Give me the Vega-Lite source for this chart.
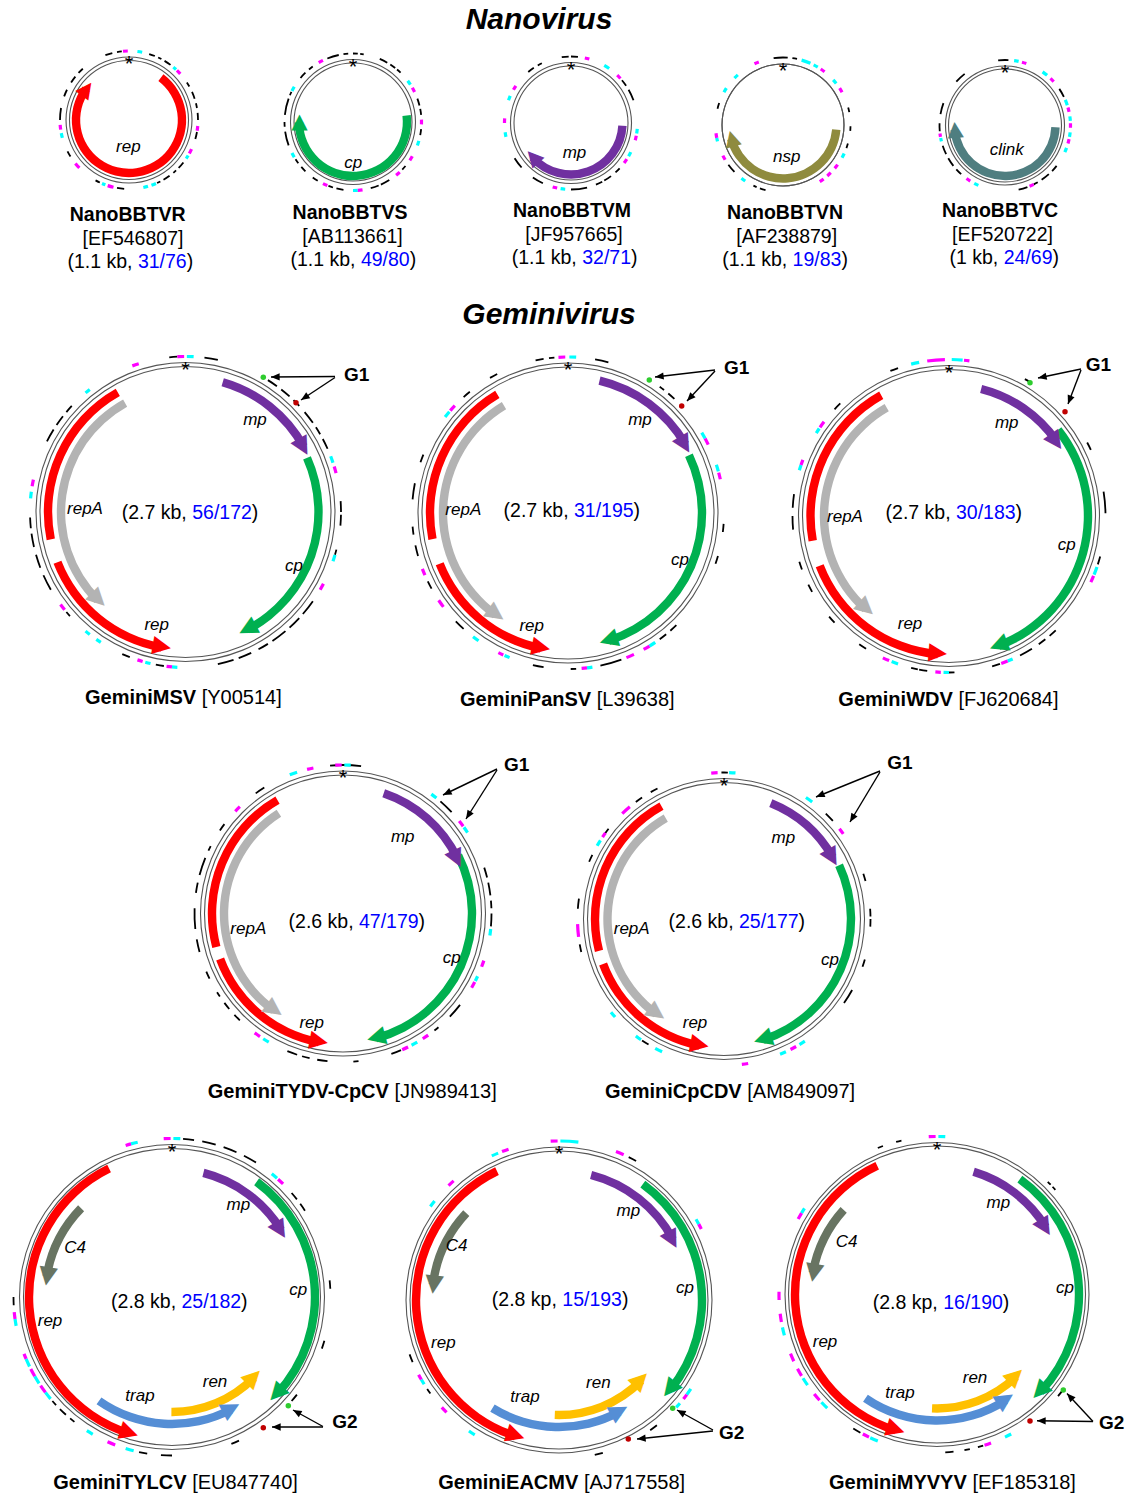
{
"$schema":"https://vega.github.io/schema/vega-lite/v6.json",
"width":1130,"height":1495,
"autosize":{"type":"fit","contains":"padding"},
"padding":0,
"background":"white",
"config":{"view":{"stroke":null}},
"datasets":{
"genomes":[
{"g":"R","fam":"nano","cx":129,"cy":120,"r1":59.5,"r2":63,"rd":69},
{"g":"S","fam":"nano","cx":353,"cy":122,"r1":59,"r2":62.5,"rd":68.5},
{"g":"M","fam":"nano","cx":571,"cy":123,"r1":57,"r2":60.5,"rd":66.5},
{"g":"N","fam":"nano","cx":783,"cy":125,"r1":61,"r2":61,"rd":67.5},
{"g":"C","fam":"nano","cx":1005,"cy":125.5,"r1":56.5,"r2":59.5,"rd":65.5},
{"g":"MSV","fam":"gem","cx":185.5,"cy":512,"r1":145.5,"r2":149.5,"rd":155.5},
{"g":"PanSV","fam":"gem","cx":568,"cy":513,"r1":146,"r2":150,"rd":156},
{"g":"WDV","fam":"gem","cx":949,"cy":516,"r1":146.5,"r2":150.5,"rd":156.5},
{"g":"TYDV","fam":"gem","cx":343,"cy":913.5,"r1":138.5,"r2":142.5,"rd":148.5},
{"g":"CpCDV","fam":"gem","cx":724,"cy":919,"r1":136.5,"r2":140.5,"rd":146.5},
{"g":"TYLCV","fam":"gem","cx":172,"cy":1297,"r1":148.5,"r2":152.5,"rd":158.5},
{"g":"EACMV","fam":"gem","cx":559,"cy":1300,"r1":149,"r2":153,"rd":159},
{"g":"MYVYV","fam":"gem","cx":937,"cy":1294.5,"r1":148.5,"r2":152,"rd":158}
],
"genes":[
{"g":"R","gene":"rep","a1":37,"a2":306,"r":53,"dir":"cw"},
{"g":"S","gene":"cp","a1":83,"a2":269.5,"r":54,"dir":"cw"},
{"g":"M","gene":"mp","a1":93,"a2":228,"r":51.5,"dir":"cw"},
{"g":"N","gene":"nsp","a1":95,"a2":255,"r":53.5,"dir":"cw"},
{"g":"C","gene":"clink","a1":92,"a2":265,"r":50.5,"dir":"cw"},
{"g":"MSV","gene":"mp","a1":16,"a2":61,"r":135,"dir":"cw"},
{"g":"MSV","gene":"cp","a1":66,"a2":152,"r":133,"dir":"cw"},
{"g":"MSV","gene":"rep","a1":330.5,"a2":258.5,"r":137.5,"dir":"-"},
{"g":"MSV","gene":"repA","a1":331,"a2":225,"r":124.5,"dir":"ccw"},
{"g":"MSV","gene":"rep","a1":248.6,"a2":190,"r":137.5,"dir":"ccw"},
{"g":"PanSV","gene":"mp","a1":13.4,"a2":59.6,"r":136,"dir":"cw"},
{"g":"PanSV","gene":"cp","a1":64.5,"a2":162.3,"r":134,"dir":"cw"},
{"g":"PanSV","gene":"rep","a1":329.2,"a2":259.1,"r":138,"dir":"-"},
{"g":"PanSV","gene":"repA","a1":329.2,"a2":215.5,"r":125,"dir":"ccw"},
{"g":"PanSV","gene":"rep","a1":248.4,"a2":191.4,"r":138,"dir":"ccw"},
{"g":"WDV","gene":"mp","a1":14.2,"a2":55.1,"r":131,"dir":"cw"},
{"g":"WDV","gene":"cp","a1":51.7,"a2":159,"r":139,"dir":"cw"},
{"g":"WDV","gene":"rep","a1":330.7,"a2":259.7,"r":138.5,"dir":"-"},
{"g":"WDV","gene":"repA","a1":330.1,"a2":222,"r":125,"dir":"ccw"},
{"g":"WDV","gene":"rep","a1":249,"a2":184.7,"r":138.5,"dir":"ccw"},
{"g":"TYDV","gene":"mp","a1":18.7,"a2":64.3,"r":127,"dir":"cw"},
{"g":"TYDV","gene":"cp","a1":63.2,"a2":165,"r":129,"dir":"cw"},
{"g":"TYDV","gene":"rep","a1":330,"a2":255.2,"r":131,"dir":"-"},
{"g":"TYDV","gene":"repA","a1":327.4,"a2":215.6,"r":119,"dir":"ccw"},
{"g":"TYDV","gene":"rep","a1":249.7,"a2":190.7,"r":131,"dir":"ccw"},
{"g":"CpCDV","gene":"mp","a1":22,"a2":60.3,"r":125,"dir":"cw"},
{"g":"CpCDV","gene":"cp","a1":65,"a2":162,"r":127,"dir":"cw"},
{"g":"CpCDV","gene":"rep","a1":331,"a2":255.7,"r":129,"dir":"-"},
{"g":"CpCDV","gene":"repA","a1":330,"a2":215.6,"r":116.5,"dir":"ccw"},
{"g":"CpCDV","gene":"rep","a1":249.6,"a2":191,"r":129,"dir":"ccw"},
{"g":"TYLCV","gene":"mp","a1":14.2,"a2":58.3,"r":128,"dir":"cw"},
{"g":"TYLCV","gene":"cp","a1":36.3,"a2":132.7,"r":143,"dir":"cw"},
{"g":"TYLCV","gene":"rep","a1":333.9,"a2":197.6,"r":143,"dir":"ccw"},
{"g":"TYLCV","gene":"C4","a1":314.3,"a2":279.4,"r":127,"dir":"ccw"},
{"g":"TYLCV","gene":"trap","a1":215.1,"a2":152.2,"r":127,"dir":"ccw"},
{"g":"TYLCV","gene":"ren","a1":180.3,"a2":134.6,"r":115,"dir":"ccw"},
{"g":"EACMV","gene":"mp","a1":14.4,"a2":61.9,"r":129,"dir":"cw"},
{"g":"EACMV","gene":"cp","a1":35.9,"a2":128.8,"r":143,"dir":"cw"},
{"g":"EACMV","gene":"rep","a1":334.3,"a2":197.8,"r":143,"dir":"ccw"},
{"g":"EACMV","gene":"C4","a1":313.1,"a2":277,"r":127,"dir":"ccw"},
{"g":"EACMV","gene":"trap","a1":211.6,"a2":151.6,"r":127,"dir":"ccw"},
{"g":"EACMV","gene":"ren","a1":182.1,"a2":134.4,"r":115,"dir":"ccw"},
{"g":"MYVYV","gene":"mp","a1":16.6,"a2":58.1,"r":128,"dir":"cw"},
{"g":"MYVYV","gene":"cp","a1":35.7,"a2":133.3,"r":142,"dir":"cw"},
{"g":"MYVYV","gene":"rep","a1":335.1,"a2":197,"r":142,"dir":"ccw"},
{"g":"MYVYV","gene":"C4","a1":312.2,"a2":280,"r":126,"dir":"ccw"},
{"g":"MYVYV","gene":"trap","a1":214.6,"a2":147,"r":126,"dir":"ccw"},
{"g":"MYVYV","gene":"ren","a1":182.5,"a2":136.2,"r":114,"dir":"ccw"}
],
"dashes":[
{"g":"R","a1":340,"a2":346,"c":"k"},{"g":"R","a1":350,"a2":354,"c":"k"},{"g":"R","a1":17,"a2":22,"c":"k"},{"g":"R","a1":25,"a2":28,"c":"k"},{"g":"R","a1":31,"a2":37,"c":"k"},{"g":"R","a1":57,"a2":61,"c":"k"},{"g":"R","a1":66,"a2":72,"c":"k"},{"g":"R","a1":76,"a2":80,"c":"k"},{"g":"R","a1":84,"a2":90,"c":"k"},{"g":"R","a1":100,"a2":106,"c":"k"},{"g":"R","a1":128,"a2":134,"c":"k"},{"g":"R","a1":137,"a2":140,"c":"k"},{"g":"R","a1":144,"a2":150,"c":"k"},{"g":"R","a1":153,"a2":156,"c":"k"},{"g":"R","a1":184,"a2":190,"c":"k"},{"g":"R","a1":205,"a2":209,"c":"k"},{"g":"R","a1":238,"a2":243,"c":"k"},{"g":"R","a1":270,"a2":280,"c":"k"},{"g":"R","a1":290,"a2":296,"c":"k"},{"g":"R","a1":303,"a2":309,"c":"k"},{"g":"R","a1":313,"a2":318,"c":"k"},
{"g":"R","a1":7,"a2":11,"c":"c"},{"g":"R","a1":40,"a2":43,"c":"c"},{"g":"R","a1":121,"a2":124,"c":"c"},{"g":"R","a1":157,"a2":161,"c":"c"},{"g":"R","a1":164,"a2":168,"c":"c"},{"g":"R","a1":200,"a2":203,"c":"c"},{"g":"R","a1":255,"a2":259,"c":"c"},
{"g":"R","a1":355,"a2":359,"c":"m"},{"g":"R","a1":44,"a2":48,"c":"m"},{"g":"R","a1":95,"a2":99,"c":"m"},{"g":"R","a1":115,"a2":119,"c":"m"},{"g":"R","a1":193,"a2":198,"c":"m"},{"g":"R","a1":226,"a2":231,"c":"m"},{"g":"R","a1":262,"a2":266,"c":"m"},
{"g":"S","a1":338,"a2":348,"c":"k"},{"g":"S","a1":352,"a2":356,"c":"k"},{"g":"S","a1":0,"a2":4,"c":"k"},{"g":"S","a1":6,"a2":9,"c":"k"},{"g":"S","a1":23,"a2":30,"c":"k"},{"g":"S","a1":33,"a2":38,"c":"k"},{"g":"S","a1":40,"a2":44,"c":"k"},{"g":"S","a1":70,"a2":76,"c":"k"},{"g":"S","a1":79,"a2":84,"c":"k"},{"g":"S","a1":96,"a2":101,"c":"k"},{"g":"S","a1":130,"a2":134,"c":"k"},{"g":"S","a1":148,"a2":156,"c":"k"},{"g":"S","a1":158,"a2":165,"c":"k"},{"g":"S","a1":188,"a2":194,"c":"k"},{"g":"S","a1":197,"a2":201,"c":"k"},{"g":"S","a1":211,"a2":216,"c":"k"},{"g":"S","a1":224,"a2":229,"c":"k"},{"g":"S","a1":233,"a2":237,"c":"k"},{"g":"S","a1":250,"a2":262,"c":"k"},{"g":"S","a1":266,"a2":270,"c":"k"},{"g":"S","a1":276,"a2":290,"c":"k"},{"g":"S","a1":293,"a2":296,"c":"k"},{"g":"S","a1":310,"a2":316,"c":"k"},{"g":"S","a1":320,"a2":324,"c":"k"},
{"g":"S","a1":53,"a2":57,"c":"c"},{"g":"S","a1":106,"a2":110,"c":"c"},{"g":"S","a1":176,"a2":180,"c":"c"},{"g":"S","a1":239,"a2":243,"c":"c"},{"g":"S","a1":297,"a2":301,"c":"c"},
{"g":"S","a1":330,"a2":334,"c":"m"},{"g":"S","a1":60,"a2":64,"c":"m"},{"g":"S","a1":88,"a2":92,"c":"m"},{"g":"S","a1":120,"a2":124,"c":"m"},{"g":"S","a1":137,"a2":141,"c":"m"},{"g":"S","a1":172,"a2":176,"c":"m"},{"g":"S","a1":202,"a2":206,"c":"m"},
{"g":"M","a1":352,"a2":358,"c":"k"},{"g":"M","a1":0,"a2":6,"c":"k"},{"g":"M","a1":50,"a2":56,"c":"k"},{"g":"M","a1":60,"a2":70,"c":"k"},{"g":"M","a1":133,"a2":138,"c":"k"},{"g":"M","a1":143,"a2":150,"c":"k"},{"g":"M","a1":152,"a2":158,"c":"k"},{"g":"M","a1":166,"a2":180,"c":"k"},{"g":"M","a1":205,"a2":215,"c":"k"},{"g":"M","a1":228,"a2":238,"c":"k"},{"g":"M","a1":320,"a2":326,"c":"k"},{"g":"M","a1":330,"a2":334,"c":"k"},
{"g":"M","a1":30,"a2":35,"c":"c"},{"g":"M","a1":95,"a2":99,"c":"c"},{"g":"M","a1":116,"a2":120,"c":"c"},{"g":"M","a1":185,"a2":189,"c":"c"},{"g":"M","a1":258,"a2":262,"c":"c"},{"g":"M","a1":290,"a2":294,"c":"c"},
{"g":"M","a1":12,"a2":16,"c":"m"},{"g":"M","a1":44,"a2":48,"c":"m"},{"g":"M","a1":101,"a2":105,"c":"m"},{"g":"M","a1":123,"a2":127,"c":"m"},{"g":"M","a1":192,"a2":196,"c":"m"},{"g":"M","a1":270,"a2":274,"c":"m"},{"g":"M","a1":300,"a2":304,"c":"m"},
{"g":"N","a1":352,"a2":364,"c":"k"},{"g":"N","a1":8,"a2":12,"c":"k"},{"g":"N","a1":75,"a2":79,"c":"k"},{"g":"N","a1":91,"a2":95,"c":"k"},{"g":"N","a1":106,"a2":110,"c":"k"},{"g":"N","a1":195,"a2":200,"c":"k"},{"g":"N","a1":203,"a2":206,"c":"k"},{"g":"N","a1":226,"a2":234,"c":"k"},{"g":"N","a1":284,"a2":289,"c":"k"},
{"g":"N","a1":16,"a2":24,"c":"c"},{"g":"N","a1":27,"a2":31,"c":"c"},{"g":"N","a1":48,"a2":52,"c":"c"},{"g":"N","a1":115,"a2":119,"c":"c"},{"g":"N","a1":214,"a2":218,"c":"c"},{"g":"N","a1":256,"a2":259,"c":"c"},{"g":"N","a1":299,"a2":303,"c":"c"},{"g":"N","a1":314,"a2":318,"c":"c"},
{"g":"N","a1":335,"a2":339,"c":"m"},{"g":"N","a1":34,"a2":38,"c":"m"},{"g":"N","a1":57,"a2":61,"c":"m"},{"g":"N","a1":126,"a2":130,"c":"m"},{"g":"N","a1":135,"a2":139,"c":"m"},{"g":"N","a1":143,"a2":147,"c":"m"},{"g":"N","a1":239,"a2":243,"c":"m"},{"g":"N","a1":259,"a2":263,"c":"m"},
{"g":"C","a1":354,"a2":363,"c":"k"},{"g":"C","a1":312,"a2":322,"c":"k"},{"g":"C","a1":56,"a2":64,"c":"k"},{"g":"C","a1":128,"a2":134,"c":"k"},{"g":"C","a1":138,"a2":146,"c":"k"},{"g":"C","a1":150,"a2":154,"c":"k"},{"g":"C","a1":160,"a2":168,"c":"k"},{"g":"C","a1":222,"a2":228,"c":"k"},{"g":"C","a1":232,"a2":240,"c":"k"},{"g":"C","a1":244,"a2":252,"c":"k"},{"g":"C","a1":265,"a2":272,"c":"k"},{"g":"C","a1":280,"a2":290,"c":"k"},
{"g":"C","a1":8,"a2":12,"c":"c"},{"g":"C","a1":35,"a2":40,"c":"c"},{"g":"C","a1":67,"a2":72,"c":"c"},{"g":"C","a1":82,"a2":86,"c":"c"},{"g":"C","a1":96,"a2":100,"c":"c"},{"g":"C","a1":110,"a2":114,"c":"c"},{"g":"C","a1":204,"a2":208,"c":"c"},{"g":"C","a1":256,"a2":259,"c":"c"},
{"g":"C","a1":15,"a2":19,"c":"m"},{"g":"C","a1":44,"a2":48,"c":"m"},{"g":"C","a1":74,"a2":78,"c":"m"},{"g":"C","a1":88,"a2":92,"c":"m"},{"g":"C","a1":102,"a2":106,"c":"m"},{"g":"C","a1":154,"a2":158,"c":"m"},{"g":"C","a1":212,"a2":216,"c":"m"},{"g":"C","a1":260,"a2":263,"c":"m"},
{"g":"MSV","a1":354,"a2":357,"c":"k"},{"g":"MSV","a1":7,"a2":12,"c":"k"},{"g":"MSV","a1":32,"a2":36,"c":"k"},{"g":"MSV","a1":38,"a2":42,"c":"k"},{"g":"MSV","a1":44,"a2":47,"c":"k"},{"g":"MSV","a1":50,"a2":55,"c":"k"},{"g":"MSV","a1":57,"a2":60,"c":"k"},{"g":"MSV","a1":62,"a2":66,"c":"k"},{"g":"MSV","a1":86,"a2":90,"c":"k"},{"g":"MSV","a1":91,"a2":95,"c":"k"},{"g":"MSV","a1":104,"a2":106,"c":"k"},{"g":"MSV","a1":125,"a2":131,"c":"k"},{"g":"MSV","a1":133,"a2":138,"c":"k"},{"g":"MSV","a1":140,"a2":146,"c":"k"},{"g":"MSV","a1":148,"a2":152,"c":"k"},{"g":"MSV","a1":155,"a2":160,"c":"k"},{"g":"MSV","a1":162,"a2":168,"c":"k"},{"g":"MSV","a1":188,"a2":191,"c":"k"},{"g":"MSV","a1":201,"a2":204,"c":"k"},{"g":"MSV","a1":228,"a2":230,"c":"k"},{"g":"MSV","a1":240,"a2":246,"c":"k"},{"g":"MSV","a1":249,"a2":254,"c":"k"},{"g":"MSV","a1":257,"a2":262,"c":"k"},{"g":"MSV","a1":264,"a2":268,"c":"k"},{"g":"MSV","a1":297,"a2":302,"c":"k"},{"g":"MSV","a1":304,"a2":308,"c":"k"},{"g":"MSV","a1":310,"a2":313,"c":"k"},
{"g":"MSV","a1":0.5,"a2":3,"c":"c"},{"g":"MSV","a1":69,"a2":71.5,"c":"c"},{"g":"MSV","a1":106,"a2":108.5,"c":"c"},{"g":"MSV","a1":183,"a2":185,"c":"c"},{"g":"MSV","a1":193,"a2":195,"c":"c"},{"g":"MSV","a1":213,"a2":215,"c":"c"},{"g":"MSV","a1":218,"a2":220,"c":"c"},{"g":"MSV","a1":275,"a2":277.5,"c":"c"},{"g":"MSV","a1":320,"a2":322,"c":"c"},
{"g":"MSV","a1":357,"a2":359.5,"c":"m"},{"g":"MSV","a1":340,"a2":342.5,"c":"m"},{"g":"MSV","a1":73,"a2":75.5,"c":"m"},{"g":"MSV","a1":117.5,"a2":120,"c":"m"},{"g":"MSV","a1":185,"a2":187,"c":"m"},{"g":"MSV","a1":196,"a2":198,"c":"m"},{"g":"MSV","a1":231,"a2":233.5,"c":"m"},{"g":"MSV","a1":279.5,"a2":282,"c":"m"},
{"g":"PanSV","a1":348,"a2":351,"c":"k"},{"g":"PanSV","a1":353,"a2":355,"c":"k"},{"g":"PanSV","a1":10,"a2":15,"c":"k"},{"g":"PanSV","a1":330,"a2":333,"c":"k"},{"g":"PanSV","a1":318,"a2":321,"c":"k"},{"g":"PanSV","a1":289,"a2":292,"c":"k"},{"g":"PanSV","a1":275,"a2":281,"c":"k"},{"g":"PanSV","a1":262,"a2":265,"c":"k"},{"g":"PanSV","a1":254,"a2":258,"c":"k"},{"g":"PanSV","a1":241,"a2":244,"c":"k"},{"g":"PanSV","a1":222,"a2":226,"c":"k"},{"g":"PanSV","a1":189,"a2":193,"c":"k"},{"g":"PanSV","a1":177,"a2":179,"c":"k"},{"g":"PanSV","a1":160,"a2":168,"c":"k"},{"g":"PanSV","a1":141,"a2":144,"c":"k"},{"g":"PanSV","a1":136,"a2":139,"c":"k"},{"g":"PanSV","a1":106,"a2":109,"c":"k"},{"g":"PanSV","a1":94,"a2":97,"c":"k"},{"g":"PanSV","a1":36,"a2":38,"c":"k"},{"g":"PanSV","a1":40,"a2":43,"c":"k"},
{"g":"PanSV","a1":0.5,"a2":3,"c":"c"},{"g":"PanSV","a1":308,"a2":310.5,"c":"c"},{"g":"PanSV","a1":215,"a2":217.5,"c":"c"},{"g":"PanSV","a1":202,"a2":204,"c":"c"},{"g":"PanSV","a1":171,"a2":173,"c":"c"},{"g":"PanSV","a1":146,"a2":148.5,"c":"c"},{"g":"PanSV","a1":72,"a2":74.5,"c":"c"},{"g":"PanSV","a1":59,"a2":61.5,"c":"c"},
{"g":"PanSV","a1":356.5,"a2":359,"c":"m"},{"g":"PanSV","a1":311,"a2":313.5,"c":"m"},{"g":"PanSV","a1":246.5,"a2":249,"c":"m"},{"g":"PanSV","a1":233,"a2":236,"c":"m"},{"g":"PanSV","a1":204.5,"a2":206.5,"c":"m"},{"g":"PanSV","a1":173,"a2":175,"c":"m"},{"g":"PanSV","a1":155,"a2":158,"c":"m"},{"g":"PanSV","a1":148.5,"a2":151,"c":"m"},{"g":"PanSV","a1":75,"a2":77.5,"c":"m"},{"g":"PanSV","a1":61.5,"a2":64,"c":"m"},
{"g":"WDV","a1":338,"a2":341,"c":"k"},{"g":"WDV","a1":29,"a2":31,"c":"k"},{"g":"WDV","a1":62,"a2":65,"c":"k"},{"g":"WDV","a1":81,"a2":89,"c":"k"},{"g":"WDV","a1":105,"a2":108,"c":"k"},{"g":"WDV","a1":137,"a2":140,"c":"k"},{"g":"WDV","a1":142,"a2":145,"c":"k"},{"g":"WDV","a1":148,"a2":153,"c":"k"},{"g":"WDV","a1":161,"a2":164,"c":"k"},{"g":"WDV","a1":178,"a2":181,"c":"k"},{"g":"WDV","a1":188,"a2":191,"c":"k"},{"g":"WDV","a1":191.5,"a2":194,"c":"k"},{"g":"WDV","a1":212,"a2":215,"c":"k"},{"g":"WDV","a1":227,"a2":230,"c":"k"},{"g":"WDV","a1":241,"a2":244,"c":"k"},{"g":"WDV","a1":250,"a2":253,"c":"k"},{"g":"WDV","a1":265,"a2":270,"c":"k"},{"g":"WDV","a1":273,"a2":278,"c":"k"},{"g":"WDV","a1":313,"a2":316,"c":"k"},
{"g":"WDV","a1":346,"a2":349,"c":"c"},{"g":"WDV","a1":361,"a2":365,"c":"c"},{"g":"WDV","a1":109,"a2":112,"c":"c"},{"g":"WDV","a1":156,"a2":158,"c":"c"},{"g":"WDV","a1":180,"a2":182,"c":"c"},{"g":"WDV","a1":199,"a2":201.5,"c":"c"},{"g":"WDV","a1":287,"a2":289,"c":"c"},{"g":"WDV","a1":302,"a2":304,"c":"c"},
{"g":"WDV","a1":352,"a2":358.5,"c":"m"},{"g":"WDV","a1":5.5,"a2":7.5,"c":"m"},{"g":"WDV","a1":112.5,"a2":115,"c":"m"},{"g":"WDV","a1":158,"a2":160.5,"c":"m"},{"g":"WDV","a1":183,"a2":185,"c":"m"},{"g":"WDV","a1":202.5,"a2":205,"c":"m"},{"g":"WDV","a1":289,"a2":291,"c":"m"},{"g":"WDV","a1":304.5,"a2":307,"c":"m"},
{"g":"TYDV","a1":355,"a2":367,"c":"k"},{"g":"TYDV","a1":324,"a2":328,"c":"k"},{"g":"TYDV","a1":304,"a2":307,"c":"k"},{"g":"TYDV","a1":295,"a2":297,"c":"k"},{"g":"TYDV","a1":285,"a2":292,"c":"k"},{"g":"TYDV","a1":278,"a2":282,"c":"k"},{"g":"TYDV","a1":264,"a2":272,"c":"k"},{"g":"TYDV","a1":255,"a2":260,"c":"k"},{"g":"TYDV","a1":244,"a2":247,"c":"k"},{"g":"TYDV","a1":236,"a2":238,"c":"k"},{"g":"TYDV","a1":230,"a2":233,"c":"k"},{"g":"TYDV","a1":224,"a2":227,"c":"k"},{"g":"TYDV","a1":198,"a2":202,"c":"k"},{"g":"TYDV","a1":193,"a2":196,"c":"k"},{"g":"TYDV","a1":186,"a2":190,"c":"k"},{"g":"TYDV","a1":174,"a2":176,"c":"k"},{"g":"TYDV","a1":157,"a2":161,"c":"k"},{"g":"TYDV","a1":140,"a2":142,"c":"k"},{"g":"TYDV","a1":128,"a2":134,"c":"k"},{"g":"TYDV","a1":90,"a2":95,"c":"k"},{"g":"TYDV","a1":85,"a2":88,"c":"k"},{"g":"TYDV","a1":78,"a2":83,"c":"k"},{"g":"TYDV","a1":72,"a2":76,"c":"k"},{"g":"TYDV","a1":41,"a2":47,"c":"k"},
{"g":"TYDV","a1":0.5,"a2":3,"c":"c"},{"g":"TYDV","a1":339,"a2":342,"c":"c"},{"g":"TYDV","a1":210,"a2":212.5,"c":"c"},{"g":"TYDV","a1":150,"a2":152.5,"c":"c"},{"g":"TYDV","a1":115,"a2":117,"c":"c"},{"g":"TYDV","a1":96,"a2":98.5,"c":"c"},{"g":"TYDV","a1":36.5,"a2":39,"c":"c"},{"g":"TYDV","a1":54.5,"a2":57,"c":"c"},
{"g":"TYDV","a1":357,"a2":359.5,"c":"m"},{"g":"TYDV","a1":346,"a2":348.5,"c":"m"},{"g":"TYDV","a1":313.5,"a2":316,"c":"m"},{"g":"TYDV","a1":214,"a2":216.5,"c":"m"},{"g":"TYDV","a1":154,"a2":156.5,"c":"m"},{"g":"TYDV","a1":145,"a2":147.5,"c":"m"},{"g":"TYDV","a1":117.5,"a2":120,"c":"m"},{"g":"TYDV","a1":108.5,"a2":111,"c":"m"},{"g":"TYDV","a1":51.5,"a2":54,"c":"m"},
{"g":"CpCDV","a1":359,"a2":361.5,"c":"k"},{"g":"CpCDV","a1":330,"a2":333,"c":"k"},{"g":"CpCDV","a1":323,"a2":326,"c":"k"},{"g":"CpCDV","a1":305,"a2":308,"c":"k"},{"g":"CpCDV","a1":293,"a2":296,"c":"k"},{"g":"CpCDV","a1":274,"a2":278,"c":"k"},{"g":"CpCDV","a1":257,"a2":260,"c":"k"},{"g":"CpCDV","a1":211,"a2":214,"c":"k"},{"g":"CpCDV","a1":119,"a2":125,"c":"k"},{"g":"CpCDV","a1":106,"a2":109,"c":"k"},{"g":"CpCDV","a1":86,"a2":89,"c":"k"},{"g":"CpCDV","a1":90,"a2":93,"c":"k"},{"g":"CpCDV","a1":72,"a2":75,"c":"k"},{"g":"CpCDV","a1":44,"a2":48,"c":"k"},
{"g":"CpCDV","a1":2,"a2":4.5,"c":"c"},{"g":"CpCDV","a1":300,"a2":302.5,"c":"c"},{"g":"CpCDV","a1":228,"a2":230.5,"c":"c"},{"g":"CpCDV","a1":214.5,"a2":217,"c":"c"},{"g":"CpCDV","a1":205,"a2":208,"c":"c"},{"g":"CpCDV","a1":155,"a2":157.5,"c":"c"},{"g":"CpCDV","a1":146.5,"a2":149,"c":"c"},{"g":"CpCDV","a1":34,"a2":37,"c":"c"},
{"g":"CpCDV","a1":355,"a2":357.5,"c":"m"},{"g":"CpCDV","a1":316,"a2":320,"c":"m"},{"g":"CpCDV","a1":304,"a2":306,"c":"m"},{"g":"CpCDV","a1":263,"a2":268,"c":"m"},{"g":"CpCDV","a1":170.5,"a2":173,"c":"m"},{"g":"CpCDV","a1":150.5,"a2":153,"c":"m"},{"g":"CpCDV","a1":52,"a2":54.5,"c":"m"},
{"g":"TYLCV","a1":4,"a2":8,"c":"k"},{"g":"TYLCV","a1":11,"a2":16,"c":"k"},{"g":"TYLCV","a1":19,"a2":24,"c":"k"},{"g":"TYLCV","a1":27,"a2":32,"c":"k"},{"g":"TYLCV","a1":49,"a2":52,"c":"k"},{"g":"TYLCV","a1":54,"a2":57,"c":"k"},{"g":"TYLCV","a1":84,"a2":87,"c":"k"},{"g":"TYLCV","a1":106,"a2":109,"c":"k"},{"g":"TYLCV","a1":128,"a2":131,"c":"k"},{"g":"TYLCV","a1":155,"a2":158,"c":"k"},{"g":"TYLCV","a1":180,"a2":184,"c":"k"},{"g":"TYLCV","a1":189,"a2":192,"c":"k"},{"g":"TYLCV","a1":218,"a2":220,"c":"k"},{"g":"TYLCV","a1":222,"a2":225,"c":"k"},{"g":"TYLCV","a1":227,"a2":229,"c":"k"},{"g":"TYLCV","a1":267,"a2":270,"c":"k"},
{"g":"TYLCV","a1":345,"a2":347.5,"c":"c"},{"g":"TYLCV","a1":0.5,"a2":3,"c":"c"},{"g":"TYLCV","a1":39,"a2":41.5,"c":"c"},{"g":"TYLCV","a1":194,"a2":197,"c":"c"},{"g":"TYLCV","a1":210,"a2":212.5,"c":"c"},{"g":"TYLCV","a1":230,"a2":233,"c":"c"},{"g":"TYLCV","a1":237,"a2":240,"c":"c"},{"g":"TYLCV","a1":244,"a2":247,"c":"c"},{"g":"TYLCV","a1":259.5,"a2":262,"c":"c"},
{"g":"TYLCV","a1":343,"a2":345,"c":"m"},{"g":"TYLCV","a1":357,"a2":359.5,"c":"m"},{"g":"TYLCV","a1":42,"a2":44.5,"c":"m"},{"g":"TYLCV","a1":201,"a2":204,"c":"m"},{"g":"TYLCV","a1":233,"a2":236,"c":"m"},{"g":"TYLCV","a1":240,"a2":243,"c":"m"},{"g":"TYLCV","a1":247,"a2":249,"c":"m"},{"g":"TYLCV","a1":262,"a2":264.5,"c":"m"},
{"g":"EACMV","a1":26,"a2":29,"c":"k"},{"g":"EACMV","a1":142,"a2":145,"c":"k"},{"g":"EACMV","a1":164,"a2":167,"c":"k"},{"g":"EACMV","a1":234,"a2":236,"c":"k"},{"g":"EACMV","a1":247,"a2":250,"c":"k"},
{"g":"EACMV","a1":0.5,"a2":7,"c":"c"},{"g":"EACMV","a1":335,"a2":337.5,"c":"c"},{"g":"EACMV","a1":306,"a2":308.5,"c":"c"},{"g":"EACMV","a1":59.5,"a2":61.5,"c":"c"},{"g":"EACMV","a1":124,"a2":126.5,"c":"c"},{"g":"EACMV","a1":130.5,"a2":132.5,"c":"c"},{"g":"EACMV","a1":212,"a2":214.5,"c":"c"},{"g":"EACMV","a1":238,"a2":240,"c":"c"},
{"g":"EACMV","a1":357,"a2":359.5,"c":"m"},{"g":"EACMV","a1":339,"a2":341.5,"c":"m"},{"g":"EACMV","a1":316,"a2":318.5,"c":"m"},{"g":"EACMV","a1":21,"a2":24,"c":"m"},{"g":"EACMV","a1":61.5,"a2":63.5,"c":"m"},{"g":"EACMV","a1":126.5,"a2":128.5,"c":"m"},{"g":"EACMV","a1":225,"a2":227.5,"c":"m"},{"g":"EACMV","a1":240,"a2":242,"c":"m"},
{"g":"MYVYV","a1":345,"a2":347,"c":"k"},{"g":"MYVYV","a1":338,"a2":340,"c":"k"},{"g":"MYVYV","a1":44.5,"a2":46,"c":"k"},{"g":"MYVYV","a1":47,"a2":48.5,"c":"k"},{"g":"MYVYV","a1":127,"a2":130,"c":"k"},{"g":"MYVYV","a1":209,"a2":212,"c":"k"},{"g":"MYVYV","a1":174,"a2":177,"c":"k"},{"g":"MYVYV","a1":168,"a2":170,"c":"k"},{"g":"MYVYV","a1":163,"a2":165,"c":"k"},
{"g":"MYVYV","a1":0.5,"a2":3,"c":"c"},{"g":"MYVYV","a1":301,"a2":303,"c":"c"},{"g":"MYVYV","a1":255,"a2":258,"c":"c"},{"g":"MYVYV","a1":235,"a2":238,"c":"c"},{"g":"MYVYV","a1":224,"a2":227,"c":"c"},{"g":"MYVYV","a1":202,"a2":205,"c":"c"},{"g":"MYVYV","a1":152,"a2":154.5,"c":"c"},
{"g":"MYVYV","a1":357,"a2":359.5,"c":"m"},{"g":"MYVYV","a1":298.5,"a2":301,"c":"m"},{"g":"MYVYV","a1":268,"a2":271,"c":"m"},{"g":"MYVYV","a1":260,"a2":263,"c":"m"},{"g":"MYVYV","a1":245,"a2":248,"c":"m"},{"g":"MYVYV","a1":239,"a2":242,"c":"m"},{"g":"MYVYV","a1":228,"a2":231,"c":"m"},{"g":"MYVYV","a1":205.5,"a2":208,"c":"m"},{"g":"MYVYV","a1":160,"a2":162.5,"c":"m"}
],
"dots":[
{"c":"gd","x":263.3,"y":377.3},{"c":"rd","x":296,"y":402.7},
{"c":"gd","x":649.3,"y":380},{"c":"rd","x":681.7,"y":406},
{"c":"gd","x":1030,"y":382.7},{"c":"rd","x":1065,"y":411.7},
{"c":"gd","x":288.3,"y":1405.7},{"c":"rd","x":263.3,"y":1427.7},
{"c":"gd","x":672.7,"y":1408.3},{"c":"rd","x":628.3,"y":1439},
{"c":"gd","x":1063.3,"y":1390},{"c":"rd","x":1030,"y":1421}
],
"arrows":[
{"x1":335,"y1":376.5,"x2":271,"y2":377,"ang":179.6},
{"x1":335,"y1":377.5,"x2":301,"y2":400,"ang":146.5},
{"x1":715,"y1":370,"x2":655,"y2":377,"ang":173.3},
{"x1":715,"y1":371,"x2":687,"y2":401,"ang":133},
{"x1":1081,"y1":369,"x2":1038,"y2":378,"ang":168.2},
{"x1":1081,"y1":370,"x2":1068,"y2":404,"ang":111},
{"x1":497,"y1":769,"x2":443,"y2":795,"ang":154.3},
{"x1":497,"y1":770,"x2":466,"y2":819,"ang":122.3},
{"x1":880,"y1":771,"x2":816,"y2":797,"ang":157.9},
{"x1":880,"y1":772,"x2":850,"y2":822,"ang":121},
{"x1":323,"y1":1426.5,"x2":293,"y2":1410,"ang":208.8},
{"x1":323,"y1":1427,"x2":272,"y2":1427,"ang":180},
{"x1":713,"y1":1430,"x2":677,"y2":1410,"ang":209},
{"x1":713,"y1":1431,"x2":637,"y2":1439,"ang":174},
{"x1":1093,"y1":1421.5,"x2":1067,"y2":1393.5,"ang":227.1},
{"x1":1093,"y1":1421.5,"x2":1037,"y2":1420.7,"ang":180.8}
],
"texts":[
{"x":539,"y":20,"t":"Nanovirus","k":"title"},
{"x":549,"y":315,"t":"Geminivirus","k":"title"},
{"x":127.7,"y":215,"t":"NanoBBTVR","k":"name"},{"x":133,"y":239,"t":"[EF546807]","k":"acc"},
{"x":350,"y":213,"t":"NanoBBTVS","k":"name"},{"x":352.5,"y":237,"t":"[AB113661]","k":"acc"},
{"x":572,"y":211,"t":"NanoBBTVM","k":"name"},{"x":574,"y":234.5,"t":"[JF957665]","k":"acc"},
{"x":785,"y":213,"t":"NanoBBTVN","k":"name"},{"x":786.7,"y":236.5,"t":"[AF238879]","k":"acc"},
{"x":1000,"y":211,"t":"NanoBBTVC","k":"name"},{"x":1002.5,"y":234.5,"t":"[EF520722]","k":"acc"},
{"x":132.5,"y":262,"t":"(1.1 kb,","k":"numL"},{"x":137.9,"y":262,"t":"31/76","k":"numB"},{"x":186.7,"y":262,"t":")","k":"numR"},
{"x":355.5,"y":260,"t":"(1.1 kb,","k":"numL"},{"x":360.9,"y":260,"t":"49/80","k":"numB"},{"x":409.7,"y":260,"t":")","k":"numR"},
{"x":576.8,"y":257.5,"t":"(1.1 kb,","k":"numL"},{"x":582.2,"y":257.5,"t":"32/71","k":"numB"},{"x":631,"y":257.5,"t":")","k":"numR"},
{"x":787.2,"y":259.5,"t":"(1.1 kb,","k":"numL"},{"x":792.6,"y":259.5,"t":"19/83","k":"numB"},{"x":841.4,"y":259.5,"t":")","k":"numR"},
{"x":998.3,"y":257.5,"t":"(1 kb,","k":"numL"},{"x":1003.7,"y":257.5,"t":"24/69","k":"numB"},{"x":1052.5,"y":257.5,"t":")","k":"numR"},
{"x":186.8,"y":512.7,"t":"(2.7 kb,","k":"numL"},{"x":192.2,"y":512.7,"t":"56/172","k":"numB"},{"x":251.8,"y":512.7,"t":")","k":"numR"},
{"x":568.6,"y":510.7,"t":"(2.7 kb,","k":"numL"},{"x":574,"y":510.7,"t":"31/195","k":"numB"},{"x":633.6,"y":510.7,"t":")","k":"numR"},
{"x":950.6,"y":513.3,"t":"(2.7 kb,","k":"numL"},{"x":956,"y":513.3,"t":"30/183","k":"numB"},{"x":1015.6,"y":513.3,"t":")","k":"numR"},
{"x":353.6,"y":921.7,"t":"(2.6 kb,","k":"numL"},{"x":359,"y":921.7,"t":"47/179","k":"numB"},{"x":418.6,"y":921.7,"t":")","k":"numR"},
{"x":733.6,"y":921.7,"t":"(2.6 kb,","k":"numL"},{"x":739,"y":921.7,"t":"25/177","k":"numB"},{"x":798.6,"y":921.7,"t":")","k":"numR"},
{"x":176.1,"y":1302.3,"t":"(2.8 kb,","k":"numL"},{"x":181.5,"y":1302.3,"t":"25/182","k":"numB"},{"x":241.1,"y":1302.3,"t":")","k":"numR"},
{"x":556.9,"y":1300,"t":"(2.8 kp,","k":"numL"},{"x":562.3,"y":1300,"t":"15/193","k":"numB"},{"x":621.9,"y":1300,"t":")","k":"numR"},
{"x":937.8,"y":1303.3,"t":"(2.8 kp,","k":"numL"},{"x":943.2,"y":1303.3,"t":"16/190","k":"numB"},{"x":1002.8,"y":1303.3,"t":")","k":"numR"},
{"x":196.1,"y":698.3,"t":"GeminiMSV","k":"gname"},{"x":201.7,"y":698.3,"t":"[Y00514]","k":"gacc"},
{"x":591.2,"y":700,"t":"GeminiPanSV","k":"gname"},{"x":596.8,"y":700,"t":"[L39638]","k":"gacc"},
{"x":952.8,"y":700,"t":"GeminiWDV","k":"gname"},{"x":958.4,"y":700,"t":"[FJ620684]","k":"gacc"},
{"x":388.9,"y":1091.7,"t":"GeminiTYDV-CpCV","k":"gname"},{"x":394.5,"y":1091.7,"t":"[JN989413]","k":"gacc"},
{"x":741.7,"y":1091.7,"t":"GeminiCpCDV","k":"gname"},{"x":747.3,"y":1091.7,"t":"[AM849097]","k":"gacc"},
{"x":186.6,"y":1483.3,"t":"GeminiTYLCV","k":"gname"},{"x":192.2,"y":1483.3,"t":"[EU847740]","k":"gacc"},
{"x":578.3,"y":1483.3,"t":"GeminiEACMV","k":"gname"},{"x":583.9,"y":1483.3,"t":"[AJ717558]","k":"gacc"},
{"x":966.8,"y":1483.3,"t":"GeminiMYVYV","k":"gname"},{"x":972.4,"y":1483.3,"t":"[EF185318]","k":"gacc"},
{"x":128.3,"y":146.7,"t":"rep","k":"gene"},{"x":353.3,"y":163.3,"t":"cp","k":"gene"},{"x":574.5,"y":153.3,"t":"mp","k":"gene"},{"x":786.7,"y":156.7,"t":"nsp","k":"gene"},{"x":1006.7,"y":150,"t":"clink","k":"gene"},
{"x":255,"y":420,"t":"mp","k":"gene"},{"x":294,"y":566,"t":"cp","k":"gene"},{"x":85,"y":509.3,"t":"repA","k":"gene"},{"x":156.7,"y":625,"t":"rep","k":"gene"},
{"x":640,"y":420,"t":"mp","k":"gene"},{"x":680,"y":560,"t":"cp","k":"gene"},{"x":463.3,"y":510,"t":"repA","k":"gene"},{"x":531.7,"y":626,"t":"rep","k":"gene"},
{"x":1006.7,"y":423.3,"t":"mp","k":"gene"},{"x":1066.7,"y":545,"t":"cp","k":"gene"},{"x":845,"y":516.7,"t":"repA","k":"gene"},{"x":910,"y":624,"t":"rep","k":"gene"},
{"x":402.7,"y":836.7,"t":"mp","k":"gene"},{"x":451.7,"y":958.3,"t":"cp","k":"gene"},{"x":248.3,"y":929.3,"t":"repA","k":"gene"},{"x":311.7,"y":1023.3,"t":"rep","k":"gene"},
{"x":783.3,"y":838.3,"t":"mp","k":"gene"},{"x":830,"y":960,"t":"cp","k":"gene"},{"x":631.7,"y":929.3,"t":"repA","k":"gene"},{"x":695,"y":1022.7,"t":"rep","k":"gene"},
{"x":238.3,"y":1205,"t":"mp","k":"gene"},{"x":298.3,"y":1290,"t":"cp","k":"gene"},{"x":75,"y":1247.7,"t":"C4","k":"gene"},{"x":50,"y":1321,"t":"rep","k":"gene"},{"x":140,"y":1395.7,"t":"trap","k":"gene"},{"x":215,"y":1381.7,"t":"ren","k":"gene"},
{"x":628.3,"y":1211,"t":"mp","k":"gene"},{"x":685,"y":1287.7,"t":"cp","k":"gene"},{"x":456.7,"y":1245.7,"t":"C4","k":"gene"},{"x":443.3,"y":1343.3,"t":"rep","k":"gene"},{"x":525,"y":1396.7,"t":"trap","k":"gene"},{"x":598.3,"y":1383.3,"t":"ren","k":"gene"},
{"x":998.3,"y":1203.3,"t":"mp","k":"gene"},{"x":1065,"y":1287.7,"t":"cp","k":"gene"},{"x":846.7,"y":1241.7,"t":"C4","k":"gene"},{"x":825,"y":1341.7,"t":"rep","k":"gene"},{"x":900,"y":1393.3,"t":"trap","k":"gene"},{"x":975,"y":1378.3,"t":"ren","k":"gene"},
{"x":356.7,"y":375,"t":"G1","k":"G"},{"x":736.7,"y":368.3,"t":"G1","k":"G"},{"x":1098.3,"y":365,"t":"G1","k":"G"},{"x":516.7,"y":765,"t":"G1","k":"G"},{"x":900,"y":763.3,"t":"G1","k":"G"},
{"x":345,"y":1421.7,"t":"G2","k":"G"},{"x":731.7,"y":1433.3,"t":"G2","k":"G"},{"x":1111.7,"y":1423.3,"t":"G2","k":"G"}
]
},
"layer":[
{"data":{"name":"genomes"},
 "mark":{"type":"arc","color":"#555555","radiusOffset":0.55,"radius2Offset":-0.55},
 "encoding":{
  "x":{"field":"cx","type":"quantitative","scale":{"domain":[0,1130],"nice":false,"zero":false},"axis":null},
  "y":{"field":"cy","type":"quantitative","scale":{"domain":[0,1495],"nice":false,"zero":false,"reverse":true},"axis":null},
  "theta":{"datum":0,"type":"quantitative","scale":{"domain":[0,360],"range":[0,6.283185307179586],"nice":false,"zero":false}},
  "theta2":{"datum":360},
  "radius":{"field":"r2","type":"quantitative","scale":{"type":"linear","domain":[0,200],"range":[0,200],"nice":false,"zero":true}},
  "radius2":{"field":"r2"}}},
{"data":{"name":"genomes"},
 "mark":{"type":"arc","color":"#555555","radiusOffset":0.55,"radius2Offset":-0.55},
 "encoding":{
  "x":{"field":"cx","type":"quantitative","scale":{"domain":[0,1130],"nice":false,"zero":false},"axis":null},
  "y":{"field":"cy","type":"quantitative","scale":{"domain":[0,1495],"nice":false,"zero":false,"reverse":true},"axis":null},
  "theta":{"datum":0,"type":"quantitative","scale":{"domain":[0,360],"range":[0,6.283185307179586],"nice":false,"zero":false}},
  "theta2":{"datum":360},
  "radius":{"field":"r1","type":"quantitative","scale":{"type":"linear","domain":[0,200],"range":[0,200],"nice":false,"zero":true}},
  "radius2":{"field":"r1"}}},
{"data":{"name":"dashes"},
 "transform":[{"filter":"datum.c === 'k'"},{"lookup":"g","from":{"data":{"name":"genomes"},"key":"g","fields":["cx","cy","rd"]}}],
 "mark":{"type":"arc","radiusOffset":0.9,"radius2Offset":-0.9},
 "encoding":{
  "x":{"field":"cx","type":"quantitative","scale":{"domain":[0,1130],"nice":false,"zero":false},"axis":null},
  "y":{"field":"cy","type":"quantitative","scale":{"domain":[0,1495],"nice":false,"zero":false,"reverse":true},"axis":null},
  "theta":{"field":"a1","type":"quantitative","stack":null,"scale":{"domain":[0,360],"range":[0,6.283185307179586],"nice":false,"zero":false}},
  "theta2":{"field":"a2"},
  "radius":{"field":"rd","type":"quantitative","scale":{"type":"linear","domain":[0,200],"range":[0,200],"nice":false,"zero":true}},
  "radius2":{"field":"rd"},
  "color":{"field":"c","type":"nominal","legend":null,"scale":{"domain":["rep","repA","mp","cp","C4","trap","ren","nsp","clink","k","c","m","gd","rd"],"range":["#ff0000","#b3b3b3","#7030a0","#00b050","#687462","#558ed5","#ffc000","#8f8b3e","#4f7e80","#000000","#00ffff","#ff00ff","#2ecc2e","#c00000"]}}}},
{"data":{"name":"dashes"},
 "transform":[{"filter":"datum.c !== 'k'"},{"lookup":"g","from":{"data":{"name":"genomes"},"key":"g","fields":["cx","cy","rd"]}}],
 "mark":{"type":"arc","radiusOffset":1.6,"radius2Offset":-1.6},
 "encoding":{
  "x":{"field":"cx","type":"quantitative","scale":{"domain":[0,1130],"nice":false,"zero":false},"axis":null},
  "y":{"field":"cy","type":"quantitative","scale":{"domain":[0,1495],"nice":false,"zero":false,"reverse":true},"axis":null},
  "theta":{"field":"a1","type":"quantitative","stack":null,"scale":{"domain":[0,360],"range":[0,6.283185307179586],"nice":false,"zero":false}},
  "theta2":{"field":"a2"},
  "radius":{"field":"rd","type":"quantitative","scale":{"type":"linear","domain":[0,200],"range":[0,200],"nice":false,"zero":true}},
  "radius2":{"field":"rd"},
  "color":{"field":"c","type":"nominal","legend":null,"scale":{"domain":["rep","repA","mp","cp","C4","trap","ren","nsp","clink","k","c","m","gd","rd"],"range":["#ff0000","#b3b3b3","#7030a0","#00b050","#687462","#558ed5","#ffc000","#8f8b3e","#4f7e80","#000000","#00ffff","#ff00ff","#2ecc2e","#c00000"]}}}},
{"data":{"name":"dots"},
 "mark":{"type":"point","shape":"circle","filled":true,"opacity":1,"size":30},
 "encoding":{
  "x":{"field":"x","type":"quantitative","scale":{"domain":[0,1130],"nice":false,"zero":false},"axis":null},
  "y":{"field":"y","type":"quantitative","scale":{"domain":[0,1495],"nice":false,"zero":false,"reverse":true},"axis":null},
  "color":{"field":"c","type":"nominal","legend":null,"scale":{"domain":["rep","repA","mp","cp","C4","trap","ren","nsp","clink","k","c","m","gd","rd"],"range":["#ff0000","#b3b3b3","#7030a0","#00b050","#687462","#558ed5","#ffc000","#8f8b3e","#4f7e80","#000000","#00ffff","#ff00ff","#2ecc2e","#c00000"]}}}},
{"data":{"name":"genes"},
 "transform":[{"lookup":"g","from":{"data":{"name":"genomes"},"key":"g","fields":["cx","cy"]}}],
 "mark":{"type":"arc","radiusOffset":4.2,"radius2Offset":-4.2},
 "encoding":{
  "x":{"field":"cx","type":"quantitative","scale":{"domain":[0,1130],"nice":false,"zero":false},"axis":null},
  "y":{"field":"cy","type":"quantitative","scale":{"domain":[0,1495],"nice":false,"zero":false,"reverse":true},"axis":null},
  "theta":{"field":"a1","type":"quantitative","stack":null,"scale":{"domain":[0,360],"range":[0,6.283185307179586],"nice":false,"zero":false}},
  "theta2":{"field":"a2"},
  "radius":{"field":"r","type":"quantitative","scale":{"type":"linear","domain":[0,200],"range":[0,200],"nice":false,"zero":true}},
  "radius2":{"field":"r"},
  "color":{"field":"gene","type":"nominal","legend":null,"scale":{"domain":["rep","repA","mp","cp","C4","trap","ren","nsp","clink","k","c","m","gd","rd"],"range":["#ff0000","#b3b3b3","#7030a0","#00b050","#687462","#558ed5","#ffc000","#8f8b3e","#4f7e80","#000000","#00ffff","#ff00ff","#2ecc2e","#c00000"]}}}},
{"data":{"name":"genes"},
 "transform":[{"lookup":"g","from":{"data":{"name":"genomes"},"key":"g","fields":["cx","cy","fam"]}},{"filter":"datum.fam === 'nano' && datum.dir === 'cw'"}],
 "mark":{"type":"text","text":"▶","font":"DejaVu Sans","fontSize":21,"align":"center","baseline":"middle"},
 "encoding":{
  "x":{"field":"cx","type":"quantitative","scale":{"domain":[0,1130],"nice":false,"zero":false},"axis":null},
  "y":{"field":"cy","type":"quantitative","scale":{"domain":[0,1495],"nice":false,"zero":false,"reverse":true},"axis":null},
  "theta":{"field":"a2","type":"quantitative","stack":null,"scale":{"domain":[0,360],"range":[0,6.283185307179586],"nice":false,"zero":false}},
  "radius":{"field":"r","type":"quantitative","scale":{"type":"linear","domain":[0,200],"range":[0,200],"nice":false,"zero":true}},
  "angle":{"field":"a2","type":"quantitative","scale":{"domain":[0,360],"range":[0,360],"nice":false,"zero":false}},
  "color":{"field":"gene","type":"nominal","legend":null,"scale":{"domain":["rep","repA","mp","cp","C4","trap","ren","nsp","clink","k","c","m","gd","rd"],"range":["#ff0000","#b3b3b3","#7030a0","#00b050","#687462","#558ed5","#ffc000","#8f8b3e","#4f7e80","#000000","#00ffff","#ff00ff","#2ecc2e","#c00000"]}}}},
{"data":{"name":"genes"},
 "transform":[{"lookup":"g","from":{"data":{"name":"genomes"},"key":"g","fields":["cx","cy","fam"]}},{"filter":"datum.fam === 'gem' && datum.dir === 'cw'"}],
 "mark":{"type":"text","text":"▶","font":"DejaVu Sans","fontSize":24,"align":"center","baseline":"middle"},
 "encoding":{
  "x":{"field":"cx","type":"quantitative","scale":{"domain":[0,1130],"nice":false,"zero":false},"axis":null},
  "y":{"field":"cy","type":"quantitative","scale":{"domain":[0,1495],"nice":false,"zero":false,"reverse":true},"axis":null},
  "theta":{"field":"a2","type":"quantitative","stack":null,"scale":{"domain":[0,360],"range":[0,6.283185307179586],"nice":false,"zero":false}},
  "radius":{"field":"r","type":"quantitative","scale":{"type":"linear","domain":[0,200],"range":[0,200],"nice":false,"zero":true}},
  "angle":{"field":"a2","type":"quantitative","scale":{"domain":[0,360],"range":[0,360],"nice":false,"zero":false}},
  "color":{"field":"gene","type":"nominal","legend":null,"scale":{"domain":["rep","repA","mp","cp","C4","trap","ren","nsp","clink","k","c","m","gd","rd"],"range":["#ff0000","#b3b3b3","#7030a0","#00b050","#687462","#558ed5","#ffc000","#8f8b3e","#4f7e80","#000000","#00ffff","#ff00ff","#2ecc2e","#c00000"]}}}},
{"data":{"name":"genes"},
 "transform":[{"lookup":"g","from":{"data":{"name":"genomes"},"key":"g","fields":["cx","cy","fam"]}},{"filter":"datum.dir === 'ccw'"}],
 "mark":{"type":"text","text":"◀","font":"DejaVu Sans","fontSize":24,"align":"center","baseline":"middle"},
 "encoding":{
  "x":{"field":"cx","type":"quantitative","scale":{"domain":[0,1130],"nice":false,"zero":false},"axis":null},
  "y":{"field":"cy","type":"quantitative","scale":{"domain":[0,1495],"nice":false,"zero":false,"reverse":true},"axis":null},
  "theta":{"field":"a2","type":"quantitative","stack":null,"scale":{"domain":[0,360],"range":[0,6.283185307179586],"nice":false,"zero":false}},
  "radius":{"field":"r","type":"quantitative","scale":{"type":"linear","domain":[0,200],"range":[0,200],"nice":false,"zero":true}},
  "angle":{"field":"a2","type":"quantitative","scale":{"domain":[0,360],"range":[0,360],"nice":false,"zero":false}},
  "color":{"field":"gene","type":"nominal","legend":null,"scale":{"domain":["rep","repA","mp","cp","C4","trap","ren","nsp","clink","k","c","m","gd","rd"],"range":["#ff0000","#b3b3b3","#7030a0","#00b050","#687462","#558ed5","#ffc000","#8f8b3e","#4f7e80","#000000","#00ffff","#ff00ff","#2ecc2e","#c00000"]}}}},
{"data":{"name":"genomes"},
 "mark":{"type":"text","text":"*","font":"Liberation Sans","fontSize":22,"align":"center","baseline":"middle","dy":7,"color":"black"},
 "encoding":{
  "x":{"field":"cx","type":"quantitative","scale":{"domain":[0,1130],"nice":false,"zero":false},"axis":null},
  "y":{"field":"cy","type":"quantitative","scale":{"domain":[0,1495],"nice":false,"zero":false,"reverse":true},"axis":null},
  "theta":{"datum":0,"type":"quantitative","scale":{"domain":[0,360],"range":[0,6.283185307179586],"nice":false,"zero":false}},
  "radius":{"field":"r2","type":"quantitative","scale":{"type":"linear","domain":[0,200],"range":[0,200],"nice":false,"zero":true}}}},
{"data":{"name":"arrows"},
 "mark":{"type":"rule","color":"black","strokeWidth":1.4},
 "encoding":{
  "x":{"field":"x1","type":"quantitative","scale":{"domain":[0,1130],"nice":false,"zero":false},"axis":null},
  "y":{"field":"y1","type":"quantitative","scale":{"domain":[0,1495],"nice":false,"zero":false,"reverse":true},"axis":null},
  "x2":{"field":"x2"},"y2":{"field":"y2"}}},
{"data":{"name":"arrows"},
 "mark":{"type":"point","shape":"M0,0L-1,-0.42L-1,0.42Z","filled":true,"opacity":1,"color":"black","size":300,"strokeWidth":0},
 "encoding":{
  "x":{"field":"x2","type":"quantitative","scale":{"domain":[0,1130],"nice":false,"zero":false},"axis":null},
  "y":{"field":"y2","type":"quantitative","scale":{"domain":[0,1495],"nice":false,"zero":false,"reverse":true},"axis":null},
  "angle":{"field":"ang","type":"quantitative","scale":{"domain":[0,360],"range":[0,360],"nice":false,"zero":false}}}},
{"data":{"name":"texts"},"transform":[{"filter":"datum.k === 'title'"}],
 "mark":{"type":"text","font":"Liberation Sans","fontSize":30,"fontWeight":"bold","fontStyle":"italic","align":"center","baseline":"middle","color":"black"},
 "encoding":{"x":{"field":"x","type":"quantitative","scale":{"domain":[0,1130],"nice":false,"zero":false},"axis":null},"y":{"field":"y","type":"quantitative","scale":{"domain":[0,1495],"nice":false,"zero":false,"reverse":true},"axis":null},"text":{"field":"t"}}},
{"data":{"name":"texts"},"transform":[{"filter":"datum.k === 'name'"}],
 "mark":{"type":"text","font":"Liberation Sans","fontSize":19.5,"fontWeight":"bold","align":"center","baseline":"middle","color":"black"},
 "encoding":{"x":{"field":"x","type":"quantitative","scale":{"domain":[0,1130],"nice":false,"zero":false},"axis":null},"y":{"field":"y","type":"quantitative","scale":{"domain":[0,1495],"nice":false,"zero":false,"reverse":true},"axis":null},"text":{"field":"t"}}},
{"data":{"name":"texts"},"transform":[{"filter":"datum.k === 'acc'"}],
 "mark":{"type":"text","font":"Liberation Sans","fontSize":19.5,"align":"center","baseline":"middle","color":"black"},
 "encoding":{"x":{"field":"x","type":"quantitative","scale":{"domain":[0,1130],"nice":false,"zero":false},"axis":null},"y":{"field":"y","type":"quantitative","scale":{"domain":[0,1495],"nice":false,"zero":false,"reverse":true},"axis":null},"text":{"field":"t"}}},
{"data":{"name":"texts"},"transform":[{"filter":"datum.k === 'numL'"}],
 "mark":{"type":"text","font":"Liberation Sans","fontSize":19.5,"align":"right","baseline":"middle","color":"black"},
 "encoding":{"x":{"field":"x","type":"quantitative","scale":{"domain":[0,1130],"nice":false,"zero":false},"axis":null},"y":{"field":"y","type":"quantitative","scale":{"domain":[0,1495],"nice":false,"zero":false,"reverse":true},"axis":null},"text":{"field":"t"}}},
{"data":{"name":"texts"},"transform":[{"filter":"datum.k === 'numB'"}],
 "mark":{"type":"text","font":"Liberation Sans","fontSize":19.5,"align":"left","baseline":"middle","color":"#0000ff"},
 "encoding":{"x":{"field":"x","type":"quantitative","scale":{"domain":[0,1130],"nice":false,"zero":false},"axis":null},"y":{"field":"y","type":"quantitative","scale":{"domain":[0,1495],"nice":false,"zero":false,"reverse":true},"axis":null},"text":{"field":"t"}}},
{"data":{"name":"texts"},"transform":[{"filter":"datum.k === 'numR'"}],
 "mark":{"type":"text","font":"Liberation Sans","fontSize":19.5,"align":"left","baseline":"middle","color":"black"},
 "encoding":{"x":{"field":"x","type":"quantitative","scale":{"domain":[0,1130],"nice":false,"zero":false},"axis":null},"y":{"field":"y","type":"quantitative","scale":{"domain":[0,1495],"nice":false,"zero":false,"reverse":true},"axis":null},"text":{"field":"t"}}},
{"data":{"name":"texts"},"transform":[{"filter":"datum.k === 'gene'"}],
 "mark":{"type":"text","font":"Liberation Sans","fontSize":17,"fontStyle":"italic","align":"center","baseline":"middle","color":"black"},
 "encoding":{"x":{"field":"x","type":"quantitative","scale":{"domain":[0,1130],"nice":false,"zero":false},"axis":null},"y":{"field":"y","type":"quantitative","scale":{"domain":[0,1495],"nice":false,"zero":false,"reverse":true},"axis":null},"text":{"field":"t"}}},
{"data":{"name":"texts"},"transform":[{"filter":"datum.k === 'G'"}],
 "mark":{"type":"text","font":"Liberation Sans","fontSize":19,"fontWeight":"bold","align":"center","baseline":"middle","color":"black"},
 "encoding":{"x":{"field":"x","type":"quantitative","scale":{"domain":[0,1130],"nice":false,"zero":false},"axis":null},"y":{"field":"y","type":"quantitative","scale":{"domain":[0,1495],"nice":false,"zero":false,"reverse":true},"axis":null},"text":{"field":"t"}}},
{"data":{"name":"texts"},"transform":[{"filter":"datum.k === 'gname'"}],
 "mark":{"type":"text","font":"Liberation Sans","fontSize":20,"fontWeight":"bold","align":"right","baseline":"middle","color":"black"},
 "encoding":{"x":{"field":"x","type":"quantitative","scale":{"domain":[0,1130],"nice":false,"zero":false},"axis":null},"y":{"field":"y","type":"quantitative","scale":{"domain":[0,1495],"nice":false,"zero":false,"reverse":true},"axis":null},"text":{"field":"t"}}},
{"data":{"name":"texts"},"transform":[{"filter":"datum.k === 'gacc'"}],
 "mark":{"type":"text","font":"Liberation Sans","fontSize":20,"align":"left","baseline":"middle","color":"black"},
 "encoding":{"x":{"field":"x","type":"quantitative","scale":{"domain":[0,1130],"nice":false,"zero":false},"axis":null},"y":{"field":"y","type":"quantitative","scale":{"domain":[0,1495],"nice":false,"zero":false,"reverse":true},"axis":null},"text":{"field":"t"}}}
]
}
